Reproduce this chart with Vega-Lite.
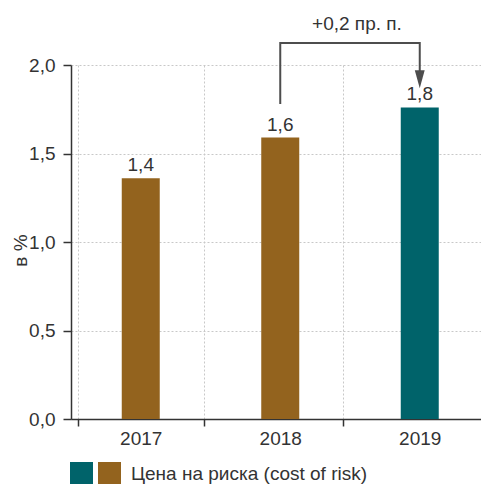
{
  "$schema": "https://vega.github.io/schema/vega-lite/v6.json",
  "autosize": {"type": "none"},
  "padding": {"left": 71, "top": 65, "right": 0, "bottom": 65},
  "width": 410,
  "height": 354,
  "config": {
    "font": "Liberation Sans",
    "view": {"stroke": null},
    "axis": {"labelFont": "Liberation Sans", "titleFont": "Liberation Sans", "labelColor": "#333", "titleColor": "#333"},
    "legend": {"labelFont": "Liberation Sans"}
  },
  "datasets": {
    "bars": [
      {"year": "2017", "value": 1.36, "label": "1,4", "c": "b"},
      {"year": "2018", "value": 1.59, "label": "1,6", "c": "b"},
      {"year": "2019", "value": 1.76, "label": "1,8", "c": "a"}
    ],
    "bracket": [
      {"year": "2018", "value": 1.78, "o": 0},
      {"year": "2018", "value": 2.125, "o": 1},
      {"year": "2019", "value": 2.125, "o": 2},
      {"year": "2019", "value": 1.95, "o": 3}
    ],
    "arrow": [{"year": "2019", "value": 1.92}],
    "note": [{"year": "2019", "value": 2.197, "text": "+0,2 пр. п."}]
  },
  "layer": [
    {
      "data": {"name": "bars"},
      "mark": {"type": "bar", "size": 38},
      "encoding": {
        "x": {
          "field": "year", "type": "nominal",
          "scale": {"range": [0, 418.5]},
          "axis": {
            "title": null, "labelAngle": 0, "labelFontSize": 19, "labelPadding": 3,
            "tickBand": "extent", "tickSize": 7, "tickColor": "#333", "tickWidth": 1.5,
            "domainColor": "#333", "domainWidth": 1.5,
            "grid": true, "gridColor": "#c8c8c8", "gridDash": [2, 2], "gridWidth": 1
          }
        },
        "y": {
          "field": "value", "type": "quantitative",
          "scale": {"domain": [0, 2], "nice": false},
          "axis": {
            "title": "в %", "titleFontSize": 19, "titleFontWeight": "normal",
            "titleX": -41, "titleY": 185, "titleAngle": -90, "titleBaseline": "bottom", "titleAlign": "center",
            "values": [0, 0.5, 1, 1.5, 2],
            "labelExpr": "replace(format(datum.value, '.1f'), '.', ',')",
            "labelFontSize": 19, "labelPadding": 8,
            "tickSize": 8, "tickColor": "#333", "tickWidth": 1.5,
            "domainColor": "#333", "domainWidth": 1.5,
            "grid": true, "gridColor": "#c8c8c8", "gridDash": [2, 2], "gridWidth": 1
          }
        },
        "color": {
          "field": "c", "type": "nominal",
          "scale": {"domain": ["a", "b"], "range": ["#00636A", "#93631E"]},
          "legend": {
            "title": null, "orient": "none", "legendX": -1, "legendY": 397,
            "direction": "horizontal", "symbolType": "square", "symbolSize": 529,
            "symbolStrokeWidth": 0, "labelFontSize": 19, "labelColor": "#333",
            "labelOffset": 0, "columnPadding": 5, "padding": 0, "labelLimit": 400,
            "labelExpr": "datum.label == 'a' ? '' : 'Цена на риска (cost of risk)'",
            "encode": {"labels": {"update": {"dx": [{"test": "datum.value == 'a'", "value": 0}, {"value": 10}]}}}
          }
        }
      }
    },
    {
      "data": {"name": "bars"},
      "mark": {"type": "text", "dy": -7, "baseline": "alphabetic", "fontSize": 19, "color": "#333"},
      "encoding": {
        "x": {"field": "year", "type": "nominal"},
        "y": {"field": "value", "type": "quantitative"},
        "text": {"field": "label"}
      }
    },
    {
      "data": {"name": "bracket"},
      "mark": {"type": "line", "color": "#4d4d4d", "strokeWidth": 2, "clip": false},
      "encoding": {
        "x": {"field": "year", "type": "nominal"},
        "y": {"field": "value", "type": "quantitative"},
        "order": {"field": "o"}
      }
    },
    {
      "data": {"name": "arrow"},
      "mark": {"type": "point", "shape": "M-0.55,-1L0.55,-1L0,1Z", "size": 324, "filled": true, "color": "#4d4d4d", "opacity": 1},
      "encoding": {
        "x": {"field": "year", "type": "nominal"},
        "y": {"field": "value", "type": "quantitative"}
      }
    },
    {
      "data": {"name": "note"},
      "mark": {"type": "text", "baseline": "alphabetic", "align": "center", "fontSize": 19, "color": "#333"},
      "encoding": {
        "x": {"field": "year", "type": "nominal", "bandPosition": 0},
        "y": {"field": "value", "type": "quantitative"},
        "text": {"field": "text"}
      }
    }
  ]
}
